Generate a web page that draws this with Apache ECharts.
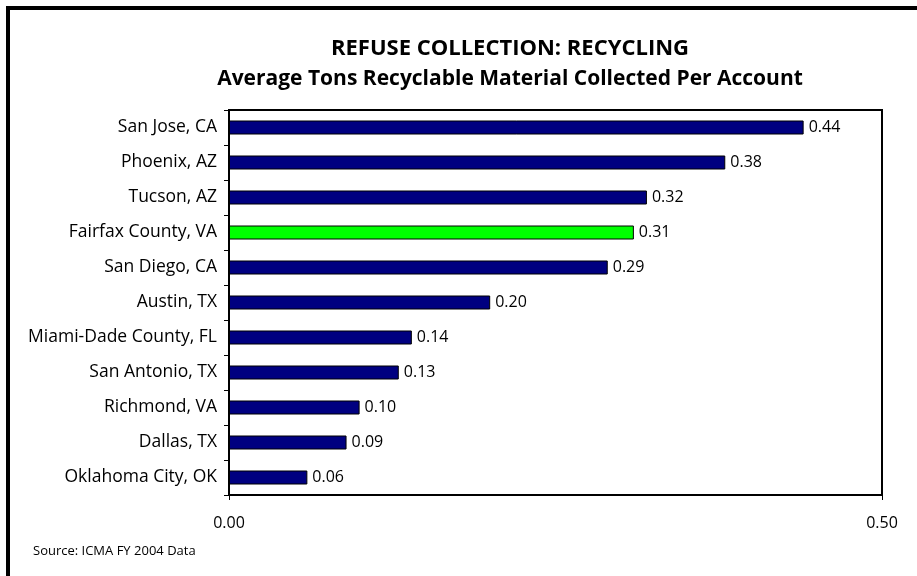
<!DOCTYPE html>
<html>
<head>
<meta charset="utf-8">
<script src="https://cdn.jsdelivr.net/npm/echarts@6/dist/echarts.min.js"></script>
<style>
  html, body { margin: 0; padding: 0; background: #fff; }
  #chart { width: 917px; height: 576px; }
</style>
</head>
<body>
<div id="chart"></div>
<script>
  // data
  const cities = ['San Jose, CA', 'Phoenix, AZ', 'Tucson, AZ', 'Fairfax County, VA', 'San Diego, CA',
    'Austin, TX', 'Miami-Dade County, FL', 'San Antonio, TX', 'Richmond, VA', 'Dallas, TX', 'Oklahoma City, OK']
  const tons = [0.44, 0.38, 0.32, 0.31, 0.29, 0.20, 0.14, 0.13, 0.10, 0.09, 0.06]
  const highlight = 'Fairfax County, VA'

  const font = '"Open Sans", "DejaVu Sans", sans-serif'
  let myChart = echarts.init(document.getElementById('chart'))
  let option = {
    backgroundColor: '#fff',
    animation: false,
    title: {
      text: 'REFUSE COLLECTION: RECYCLING',
      subtext: 'Average Tons Recyclable Material Collected Per Account',
      left: 505,
      textAlign: 'center',
      top: 30,
      itemGap: 2,
      textStyle: {
        fontFamily: font,
        fontSize: 22,
        fontWeight: 'bold',
        color: '#000',
        lineHeight: 28
      },
      subtextStyle: {
        fontFamily: font,
        fontSize: 21,
        fontWeight: 'bold',
        color: '#000',
        lineHeight: 28
      }
    },
    grid: {
      left: 229,
      right: 35,
      top: 110,
      bottom: 81,
      show: true,
      borderColor: '#000',
      borderWidth: 2,
      backgroundColor: 'transparent'
    },
    xAxis: {
      type: 'value',
      min: 0,
      max: 0.5,
      interval: 0.5,
      axisLine: { show: true, lineStyle: { color: '#000', width: 2 } },
      axisTick: { show: true, length: 5, lineStyle: { color: '#000', width: 1 } },
      splitLine: { show: false },
      axisLabel: {
        margin: 20,
        fontFamily: font,
        fontSize: 16,
        color: '#000',
        formatter: function (v) { return v.toFixed(2) }
      }
    },
    yAxis: {
      type: 'category',
      inverse: true,
      data: cities,
      axisLine: { show: true, lineStyle: { color: '#000', width: 2 } },
      axisTick: { show: true, length: 5, lineStyle: { color: '#000', width: 1 } },
      axisLabel: {
        margin: 12,
        fontFamily: font,
        fontSize: 17.5,
        color: '#000'
      }
    },
    series: [{
      type: 'bar',
      barWidth: '40%',
      data: tons.map(function (v, i) {
        return {
          value: v,
          itemStyle: { color: cities[i] === highlight ? '#00ff00' : '#000080' }
        }
      }),
      itemStyle: { borderColor: '#000', borderWidth: 1 },
      label: {
        show: true,
        position: 'right',
        distance: 5,
        fontFamily: font,
        fontSize: 16,
        color: '#000',
        formatter: function (p) { return p.value.toFixed(2) }
      }
    }],
    graphic: [
      {
        // only the top and left edges of the frame fall inside the picture
        type: 'rect',
        shape: { x: 8, y: 8, width: 1200, height: 1200 },
        style: { fill: 'none', stroke: '#000', lineWidth: 4 },
        silent: true
      },
      {
        type: 'text',
        left: 33,
        top: 545,
        style: { text: 'Source: ICMA FY 2004 Data', fontFamily: font, fontSize: 13, fill: '#000' }
      }
    ]
  }
  myChart.setOption(option)
</script>
</body>
</html>
